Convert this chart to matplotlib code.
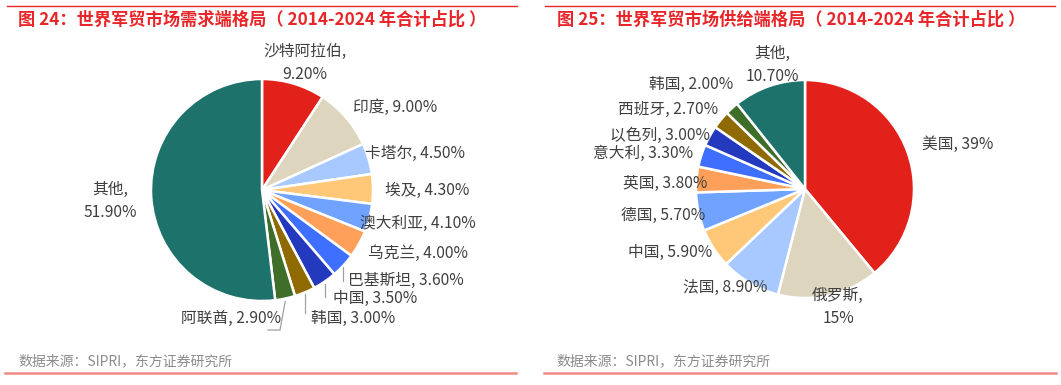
import numpy as np
import matplotlib
matplotlib.use("Agg")
import matplotlib.pyplot as plt

plt.rcParams['font.family'] = ['Noto Sans CJK SC', 'DejaVu Sans']

W, H = 1061, 385

# 需求端
demand_names = ['沙特阿拉伯', '印度', '卡塔尔', '埃及', '澳大利亚', '乌克兰',
                '巴基斯坦', '中国', '韩国', '阿联酋', '其他']
demand_vals = [9.2, 9.0, 4.5, 4.3, 4.1, 4.0, 3.6, 3.5, 3.0, 2.9, 51.9]
demand_text = ['9.20%', '9.00%', '4.50%', '4.30%', '4.10%', '4.00%',
               '3.60%', '3.50%', '3.00%', '2.90%', '51.90%']

# 供给端
supply_names = ['美国', '俄罗斯', '法国', '中国', '德国', '英国',
                '意大利', '以色列', '西班牙', '韩国', '其他']
supply_vals = [39, 15, 8.9, 5.9, 5.7, 3.8, 3.3, 3.0, 2.7, 2.0, 10.7]
supply_text = ['39%', '15%', '8.90%', '5.90%', '5.70%', '3.80%',
               '3.30%', '3.00%', '2.70%', '2.00%', '10.70%']

colors = ['#E2211A', '#DED5BE', '#A8C9FF', '#FFC878', '#70A2FF', '#FFA05A',
          '#3F6FFF', '#2339BE', '#8E6A00', '#3F6D2A', '#1D736C']

red = '#E8262A'
txt = '#404040'
fs = 11.3

fig = plt.figure(figsize=(W / 100, H / 100), dpi=100)
ax = fig.add_axes([0, 0, 1, 1])
ax.set_xlim(0, W)
ax.set_ylim(0, H)
ax.axis('off')


def fy(y):
    return H - y


def draw_pie(vals, cx, cy, r):
    ax.pie(vals, colors=colors, startangle=90, counterclock=False,
           center=(cx, fy(cy)), radius=r, frame=True,
           wedgeprops=dict(edgecolor='white', linewidth=1.8))
    # mid angles (clockwise from top) for leader lines
    c = np.cumsum(vals)
    mids = (c - np.array(vals) / 2) / 100 * 2 * np.pi
    return [(cx + r * np.sin(a), cy - r * np.cos(a)) for a in mids]


# header lines and titles
ax.plot([7, 517], [fy(6), fy(6)], color=red, lw=1.0)
ax.plot([545, 1055], [fy(6), fy(6)], color=red, lw=1.0)
ax.text(18, fy(20), '图 24：世界军贸市场需求端格局（ 2014-2024 年合计占比 ）',
        color=red, fontsize=12.4, fontweight='bold', va='center', ha='left')
ax.text(557, fy(20), '图 25：世界军贸市场供给端格局（ 2014-2024 年合计占比 ）',
        color=red, fontsize=12.4, fontweight='bold', va='center', ha='left')

# footer
ax.plot([5, 516], [fy(372.5), fy(372.5)], color='#F08A84', lw=1.8)
ax.plot([544, 1056], [fy(372.5), fy(372.5)], color='#F08A84', lw=1.8)
ax.text(18, fy(361), '数据来源：SIPRI，东方证券研究所', color='#8C8C8C',
        fontsize=10, va='center', ha='left')
ax.text(556, fy(361), '数据来源：SIPRI，东方证券研究所', color='#8C8C8C',
        fontsize=10, va='center', ha='left')

# left pie
edge = draw_pie(demand_vals, 262, 190, 111)
left_pos = [(305, 63, 'center'), (353, 107, 'left'), (365, 153, 'left'),
            (385, 190, 'left'), (360, 223, 'left'), (368, 253, 'left'),
            (348, 280, 'left'), (333, 298, 'left'), (311, 318, 'left'),
            (281, 318, 'right'), (110, 201, 'center')]
for i, (x, y, ha) in enumerate(left_pos):
    if ha == 'center':
        s = demand_names[i] + ',\n' + demand_text[i]
    else:
        s = demand_names[i] + ', ' + demand_text[i]
    ax.text(x, fy(y), s, color=txt, fontsize=fs, ha=ha, va='center',
            linespacing=1.45, multialignment='center')

lead = '#A0A0A0'
for i, ybot in [(6, 281), (7, 297), (8, 313)]:
    ex, ey = edge[i]
    ax.plot([ex, ex], [fy(ey + 2), fy(ybot)], color=lead, lw=0.9)
ex, ey = edge[9]
ax.plot([ex, 280, 268], [fy(ey + 3), fy(330), fy(330)], color=lead, lw=0.9)

# right pie
draw_pie(supply_vals, 805, 189, 109)
right_pos = [(922, 144, 'left'), (838, 307, 'center'), (767, 287, 'right'),
             (712, 252, 'right'), (705, 215, 'right'), (707, 183, 'right'),
             (693, 153, 'right'), (710, 135, 'right'), (718, 109, 'right'),
             (733, 84, 'right'), (772, 65, 'center')]
for i, (x, y, ha) in enumerate(right_pos):
    if ha == 'center':
        s = supply_names[i] + ',\n' + supply_text[i]
    else:
        s = supply_names[i] + ', ' + supply_text[i]
    ax.text(x, fy(y), s, color=txt, fontsize=fs, ha=ha, va='center',
            linespacing=1.45, multialignment='center')

ax.set_xlim(0, W)
ax.set_ylim(0, H)
ax.set_aspect('auto')
fig.savefig('out.png', dpi=100)
